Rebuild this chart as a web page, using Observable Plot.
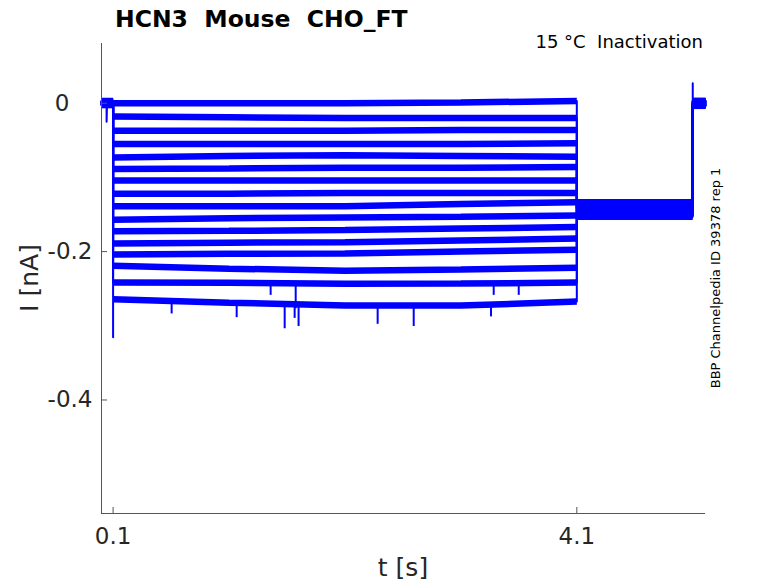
<!DOCTYPE html>
<html><head><meta charset="utf-8">
<script src="https://cdn.jsdelivr.net/npm/d3@7"></script>
<script src="https://cdn.jsdelivr.net/npm/@observablehq/plot@0.6"></script>
<style>
html,body{margin:0;padding:0;background:#fff}
svg{font-family:"DejaVu Sans",sans-serif}
</style>
</head><body><div id="chart"></div>
<script>
// ---- data (nA vs s) ----
const tStart = 0, tOn = 0.1, tOff = 4.1, tRel = 5.1, tEnd = 5.21;
const stepTimes = [0.1, 1.1, 2.1, 3.1, 4.1];
const stepLevels = [
  [0.000, 0.000, 0.000, 0.001, 0.003],
  [-0.018, -0.019, -0.020, -0.020, -0.020],
  [-0.037, -0.037, -0.037, -0.036, -0.036],
  [-0.055, -0.055, -0.055, -0.055, -0.054],
  [-0.073, -0.071, -0.070, -0.071, -0.072],
  [-0.0885, -0.088, -0.087, -0.087, -0.086],
  [-0.104, -0.104, -0.104, -0.104, -0.104],
  [-0.122, -0.122, -0.121, -0.121, -0.121],
  [-0.139, -0.139, -0.139, -0.136, -0.1335],
  [-0.157, -0.155, -0.154, -0.153, -0.1515],
  [-0.1726, -0.172, -0.171, -0.169, -0.167],
  [-0.189, -0.188, -0.1875, -0.185, -0.1825],
  [-0.204, -0.203, -0.2027, -0.200, -0.1974],
  [-0.219, -0.223, -0.2257, -0.224, -0.2216],
  [-0.2418, -0.242, -0.2432, -0.243, -0.2418],
  [-0.2641, -0.2688, -0.2728, -0.2728, -0.2674]
];
const preLevels  = [0.002, -0.001, 0.003, 0.000, -0.002, 0.001, -0.0025, 0.002, -0.001, 0.0005, -0.0015, 0.0025, -0.0005, 0.001, -0.002, 0.0015];
const tailLevels = [-0.139, -0.143, -0.147, -0.141, -0.150, -0.145, -0.138, -0.148, -0.142, -0.153, -0.144, -0.146, -0.1335, -0.151, -0.140, -0.149];
const postLevels = [0.002, -0.003, 0.001, -0.001, 0.003, -0.002, 0.000, -0.0035, 0.0025, -0.0005, 0.0015, -0.0025, 0.0005, -0.0015, 0.003, -0.003];
const preSpikeT = 0.044, preSpikeV = -0.025;
const onsetPeak = -0.3156;   // capacitive transient of last sweep at 0.1 s
const releasePeak = 0.027;   // transient at 5.1 s
const spikeT    = [0.605, 1.166, 1.580, 1.666, 1.700, 2.382, 2.693, 3.360, 1.459, 1.675, 3.383, 3.599];
const spikeBase = [-0.267, -0.270, -0.271, -0.272, -0.272, -0.273, -0.273, -0.273, -0.242, -0.243, -0.243, -0.243];
const spikeTip  = [-0.284, -0.289, -0.304, -0.290, -0.301, -0.298, -0.301, -0.288, -0.259, -0.277, -0.259, -0.259];
const xTicks = [0.1, 4.1];
const yTicksA = [0];
const yTicksB = [-0.2, -0.4];
const xDomain = [0, 5.21];
const yDomain = [-0.553, 0.0805];

// ---- build tables ----
const thick = [];  // flat noisy segments
const thin = [];   // full sweeps incl. steps
stepLevels.forEach((lv, i) => {
  const last = i === stepLevels.length - 1;
  const pre = [[tStart, preLevels[i]], [tOn, preLevels[i]]];
  const step = stepTimes.map((t, k) => [t, lv[k]]);
  const tail = [[tOff, tailLevels[i]], [tRel, tailLevels[i]]];
  const post = [[tRel, postLevels[i]], [tEnd, postLevels[i]]];
  [["pre", pre], ["step", step], ["tail", tail], ["post", post]].forEach(([s, pts]) =>
    pts.forEach(([t, v]) => thick.push({t, v, z: i + s})));
  const seq = [];
  seq.push([tStart, preLevels[i]]);
  if (i === 0) seq.push([preSpikeT, preLevels[i]], [preSpikeT, preSpikeV], [preSpikeT + 0.004, preLevels[i]]);
  seq.push([tOn, preLevels[i]]);
  if (last) seq.push([tOn, onsetPeak]);
  seq.push(...step, ...tail);
  if (i === 0) seq.push([tRel, releasePeak]);
  seq.push(...post);
  seq.forEach(([t, v]) => thin.push({t, v, z: i}));
});
const spikes = spikeT.map((t, k) => ({t, y1: spikeBase[k], y2: spikeTip[k]}));

const blue = "#0000ff";
const ink = "#262626";
const fmt = d => String(d);

const chart = Plot.plot({
  width: 778, height: 583,
  marginLeft: 101, marginRight: 73, marginTop: 43, marginBottom: 70,
  style: {fontFamily: "DejaVu Sans", fontSize: "23px", color: ink, background: "#fff"},
  x: {domain: xDomain, axis: null},
  y: {domain: yDomain, axis: null},
  marks: [
    Plot.line(thick, {x: "t", y: "v", z: "z", stroke: blue, strokeWidth: 6.5, strokeLinecap: "butt", strokeLinejoin: "miter"}),
    Plot.line(thin, {x: "t", y: "v", z: "z", stroke: blue, strokeWidth: 2}),
    Plot.ruleX(spikes, {x: "t", y1: "y1", y2: "y2", stroke: blue, strokeWidth: 2}),
    Plot.ruleX([xDomain[0]], {stroke: "#555", strokeWidth: 1}),
    Plot.ruleY([yDomain[0]], {stroke: "#555", strokeWidth: 1}),
    Plot.axisX(xTicks, {tickSize: -6, tickPadding: 20, tickFormat: fmt, stroke: "#555", fill: ink, fontSize: 23, label: null}),
    Plot.axisY(yTicksA, {tickSize: -6, tickPadding: 38, tickFormat: fmt, stroke: "#555", fill: ink, fontSize: 23, label: null}),
    Plot.axisY(yTicksB, {tickSize: -6, tickPadding: 15, tickFormat: fmt, stroke: "#555", fill: ink, fontSize: 23, label: null})
  ]
});

const svg = d3.select(chart);
svg.append("text").attr("x", 115).attr("y", 27).attr("font-size", 23.5).attr("font-weight", "bold")
  .attr("text-anchor", "start").attr("fill", "#000").style("white-space", "pre").text("HCN3  Mouse  CHO_FT");
svg.append("text").attr("x", 703).attr("y", 48).attr("font-size", 18).attr("text-anchor", "end")
  .attr("fill", "#000").style("white-space", "pre").text("15 °C  Inactivation");
svg.append("text").attr("transform", "translate(720,278) rotate(-90)").attr("font-size", 13)
  .attr("text-anchor", "middle").attr("fill", "#000").text("BBP Channelpedia ID 39378 rep 1");
svg.append("text").attr("transform", "translate(38,278) rotate(-90)").attr("font-size", 25)
  .attr("text-anchor", "middle").attr("fill", ink).text("I [nA]");
svg.append("text").attr("x", 403).attr("y", 576).attr("font-size", 25)
  .attr("text-anchor", "middle").attr("fill", ink).text("t [s]");

document.getElementById("chart").appendChild(chart);
</script>
</body></html>
